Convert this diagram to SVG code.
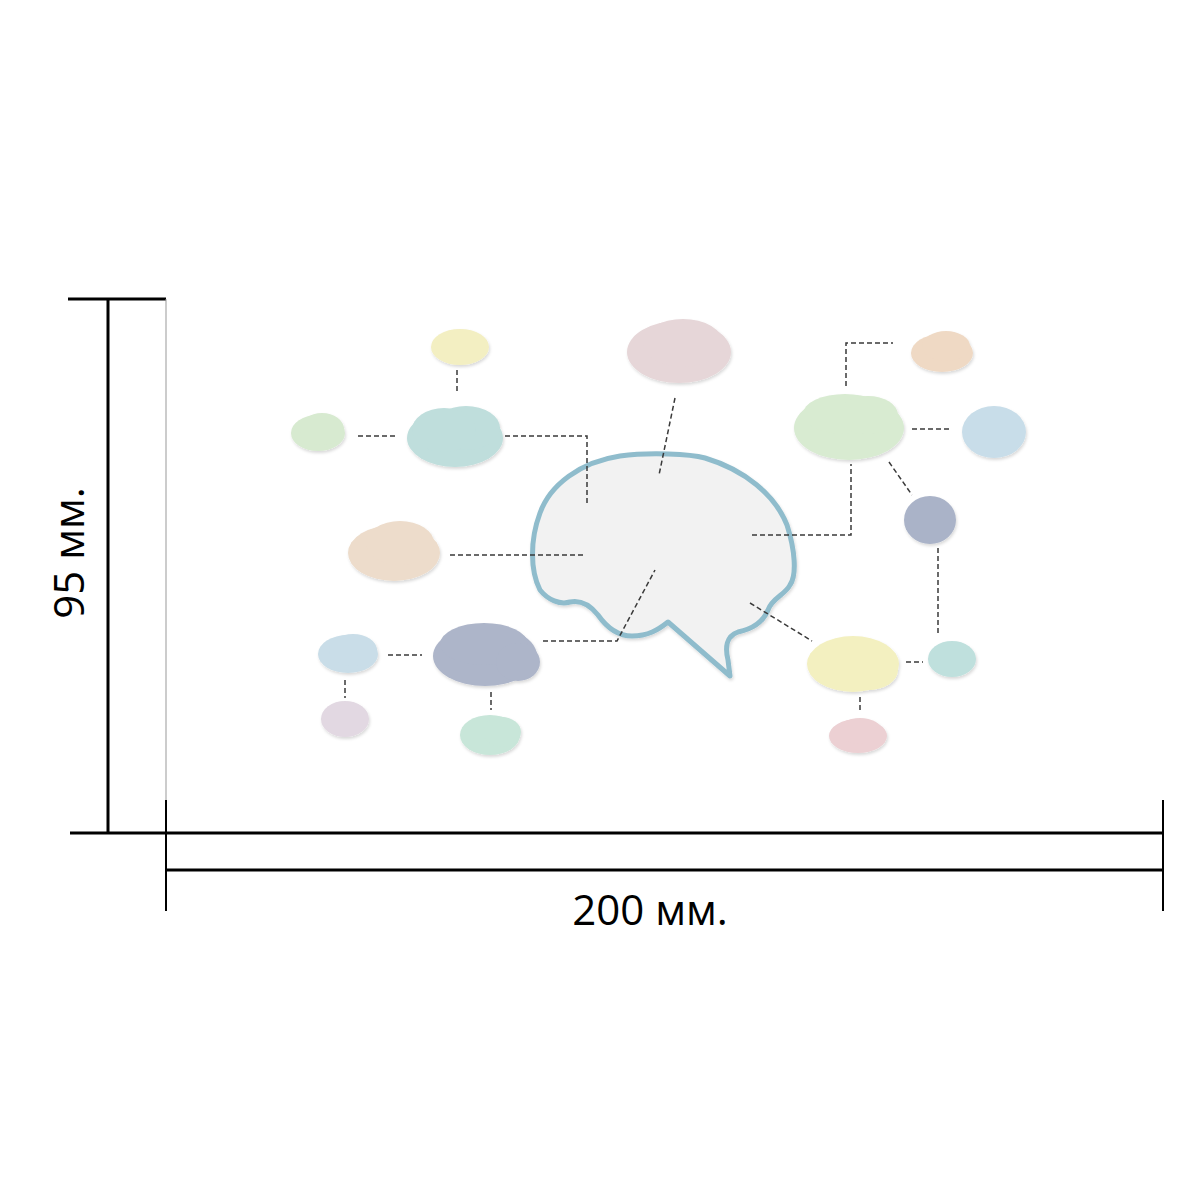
<svg xmlns="http://www.w3.org/2000/svg" width="1200" height="1200" viewBox="0 0 1200 1200">
<defs>
<filter id="sh" x="-20%" y="-20%" width="140%" height="150%">
<feDropShadow dx="1" dy="2" stdDeviation="1.5" flood-color="#000" flood-opacity="0.15"/>
</filter>
</defs>
<style>
.dim{stroke:#000;stroke-width:3;fill:none}
.tick{stroke:#000;stroke-width:2;fill:none}
.con{stroke:#3a3a3a;stroke-width:1.5;fill:none;stroke-dasharray:5 3}
.lbl{font-family:"Open Sans","DejaVu Sans",sans-serif;font-size:42px;fill:#000}
</style>
<rect width="1200" height="1200" fill="#fff"/>
<g id="dimensions">
<line class="dim" x1="68" y1="299" x2="166" y2="299"/>
<line class="dim" x1="108" y1="299" x2="108" y2="833"/>
<line class="dim" x1="70" y1="833" x2="1163" y2="833"/>
<line class="dim" x1="166" y1="870" x2="1163" y2="870"/>
<line x1="166" y1="299" x2="166" y2="800" stroke="#999" stroke-width="1"/>
<line class="tick" x1="166" y1="800" x2="166" y2="911"/>
<line class="tick" x1="1163" y1="800" x2="1163" y2="911"/>
<text class="lbl" x="84" y="553" text-anchor="middle" transform="rotate(-90 84 553)">95 мм.</text>
<text class="lbl" x="650" y="925" text-anchor="middle">200 мм.</text>
</g>
<g id="brain" filter="url(#sh)">
<path d="M620,456 C650,452 690,454 705,458 C745,470 775,495 787,525 C795,550 797,575 790,585 C785,595 772,598 768,610 C762,625 748,630 738,632 C726,636 725,648 728,660 L730,676 L668,622 C658,630 648,636 632,636 C615,636 605,625 598,615 C590,605 580,600 570,602 C560,605 548,600 540,590 C530,570 530,540 540,513 C550,485 580,462 620,456 Z" fill="#f2f2f2" stroke="#8fbccc" stroke-width="5" stroke-linejoin="round"/>
</g>
<g id="blob-pink-top" fill="#e6d6d8" filter="url(#sh)">
<ellipse cx="679" cy="352" rx="52" ry="31"/><ellipse cx="683" cy="343" rx="40" ry="24"/>
</g>
<g id="blob-yellow-small" fill="#f3efc2" filter="url(#sh)">
<ellipse cx="460" cy="347" rx="29" ry="18"/>
</g>
<g id="blob-green-small" fill="#d7ead0" filter="url(#sh)">
<ellipse cx="318" cy="433" rx="27" ry="18"/><ellipse cx="322" cy="429" rx="22" ry="16"/>
</g>
<g id="blob-teal-big" fill="#bfdedc" filter="url(#sh)">
<ellipse cx="455" cy="438" rx="48" ry="29"/><ellipse cx="466" cy="428" rx="34" ry="22"/><ellipse cx="444" cy="430" rx="32" ry="22"/>
</g>
<g id="blob-peach-left" fill="#eddccb" filter="url(#sh)">
<ellipse cx="394" cy="553" rx="46" ry="28"/><ellipse cx="400" cy="543" rx="34" ry="22"/>
</g>
<g id="blob-blue-left" fill="#c9dde8" filter="url(#sh)">
<ellipse cx="348" cy="654" rx="30" ry="19"/><ellipse cx="353" cy="650" rx="24" ry="16"/>
</g>
<g id="blob-lavender" fill="#e2d8e2" filter="url(#sh)">
<ellipse cx="345" cy="719" rx="24" ry="18"/>
</g>
<g id="blob-slate" fill="#adb5c9" filter="url(#sh)">
<ellipse cx="485" cy="656" rx="52" ry="30"/><ellipse cx="484" cy="644" rx="44" ry="21"/><ellipse cx="518" cy="662" rx="22" ry="19"/>
</g>
<g id="blob-mint" fill="#c8e6d9" filter="url(#sh)">
<ellipse cx="490" cy="735" rx="30" ry="20"/><ellipse cx="502" cy="732" rx="19" ry="15"/>
</g>
<g id="blob-peach-right" fill="#efd9c4" filter="url(#sh)">
<ellipse cx="942" cy="353" rx="31" ry="19"/><ellipse cx="946" cy="346" rx="24" ry="15"/>
</g>
<g id="blob-green-big" fill="#d8ebd1" filter="url(#sh)">
<ellipse cx="849" cy="428" rx="55" ry="32"/><ellipse cx="845" cy="414" rx="42" ry="20"/><ellipse cx="868" cy="415" rx="30" ry="19"/>
</g>
<g id="blob-blue-right" fill="#c8dde9" filter="url(#sh)">
<ellipse cx="994" cy="432" rx="32" ry="26"/>
</g>
<g id="blob-slate-small" fill="#aab3c8" filter="url(#sh)">
<ellipse cx="930" cy="520" rx="26" ry="24"/>
</g>
<g id="blob-yellow-right" fill="#f3f0c0" filter="url(#sh)">
<ellipse cx="853" cy="664" rx="46" ry="28"/><ellipse cx="868" cy="670" rx="30" ry="20"/>
</g>
<g id="blob-teal-small" fill="#bfe0dd" filter="url(#sh)">
<ellipse cx="952" cy="659" rx="24" ry="18"/>
</g>
<g id="blob-pink-bottom" fill="#ecd0d3" filter="url(#sh)">
<ellipse cx="858" cy="736" rx="29" ry="17"/><ellipse cx="860" cy="731" rx="22" ry="13"/>
</g>
<g id="connectors">
<path class="con" d="M505 436 H587 V505"/>
<path class="con" d="M675 398 L659 475"/>
<path class="con" d="M450 555 H585"/>
<path class="con" d="M543 641 H617 L655 570"/>
<path class="con" d="M752 535 H851 V464"/>
<path class="con" d="M750 603 L812 641"/>
<path class="con" d="M846 386 V343 H893"/>
<path class="con" d="M912 429 H952"/>
<path class="con" d="M889 462 L912 495"/>
<path class="con" d="M938 548 V634"/>
<path class="con" d="M906 662 H923"/>
<path class="con" d="M860 697 V711"/>
<path class="con" d="M457 370 V393"/>
<path class="con" d="M358 436 H398"/>
<path class="con" d="M388 655 H422"/>
<path class="con" d="M345 680 V698"/>
<path class="con" d="M491 692 V710"/>
</g>
</svg>
